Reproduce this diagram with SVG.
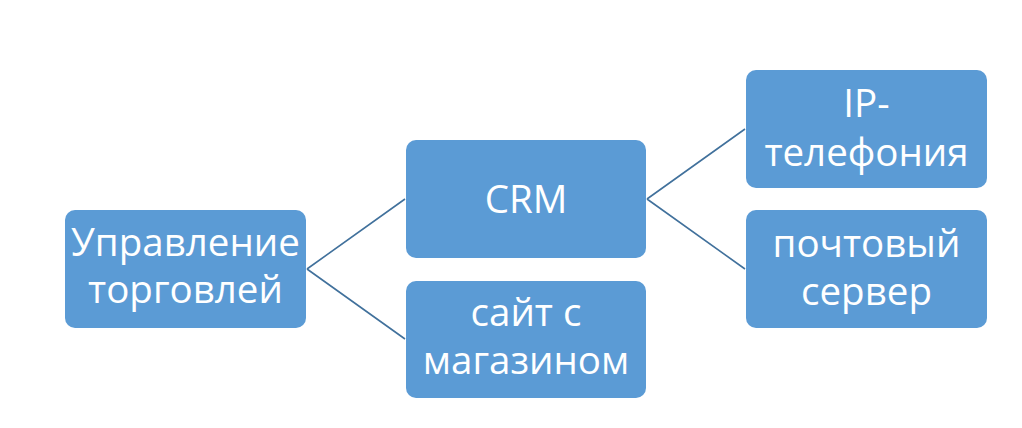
<svg xmlns="http://www.w3.org/2000/svg" width="1022" height="428" viewBox="0 0 1022 428">
<style>
.box{fill:#5B9BD5;}
.t{fill:#FFFFFF;font-family:"Open Sans","Noto Sans",sans-serif;font-size:38.5px;text-anchor:middle;}
.c{stroke:#41719C;stroke-width:1.6;fill:none;}
</style>
<rect width="1022" height="428" fill="#FFFFFF"/>
<g id="connectors">
<path class="c" d="M307,269 L405,199 M307,269 L405,339"/>
<path class="c" d="M647,199 L745,129 M647,199 L745,269"/>
</g>
<g id="n1">
<rect class="box" x="65" y="210" width="241" height="118" rx="10"/>
<text class="t" x="185.5" y="256">Управление</text>
<text class="t" x="185.5" y="303">торговлей</text>
</g>
<g id="n2">
<rect class="box" x="406" y="140" width="240" height="118" rx="10"/>
<text class="t" x="526" y="213">CRM</text>
</g>
<g id="n3">
<rect class="box" x="406" y="281" width="240" height="117" rx="10"/>
<text class="t" x="526" y="326">сайт с</text>
<text class="t" x="526" y="374">магазином</text>
</g>
<g id="n4">
<rect class="box" x="746" y="70" width="241" height="118" rx="10"/>
<text class="t" x="866.5" y="117">IP-</text>
<text class="t" x="866.5" y="166">телефония</text>
</g>
<g id="n5">
<rect class="box" x="746" y="210" width="241" height="118" rx="10"/>
<text class="t" x="866.5" y="257">почтовый</text>
<text class="t" x="866.5" y="305">сервер</text>
</g>
</svg>
